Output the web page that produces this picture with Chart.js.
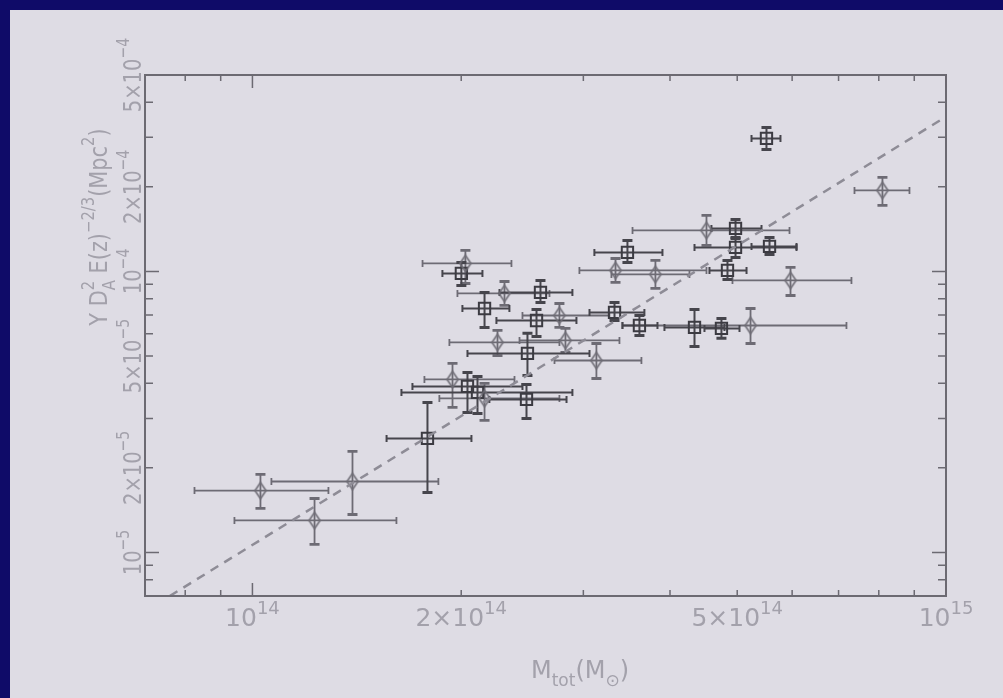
<!DOCTYPE html>
<html>
<head>
<meta charset="utf-8">
<script src="https://cdn.jsdelivr.net/npm/chart.js@4.4.1/dist/chart.umd.min.js"></script>
<style>
  html, body { margin: 0; padding: 0; background: #0f0b68; }
  canvas { display: block; }
</style>
</head>
<body>
<canvas id="c" width="1003" height="698"></canvas>
<script>
// Clusters plotted with diamond symbols: mass, mass range, Y D_A^2 E(z)^-2/3 and its range
const diamondMass   = [1.027e14, 1.229e14, 1.394e14, 1.943e14, 2.161e14, 2.028e14, 2.309e14, 2.771e14, 2.256e14, 2.827e14, 3.133e14, 3.338e14, 3.811e14, 5.968e14, 4.515e14, 5.226e14, 8.098e14];
const diamondMassLo = [8.25e13, 9.42e13, 1.065e14, 1.770e14, 1.860e14, 1.759e14, 1.975e14, 2.451e14, 1.923e14, 2.427e14, 2.726e14, 2.961e14, 3.293e14, 4.922e14, 3.532e14, 3.416e14, 7.380e14];
const diamondMassHi = [1.287e14, 1.613e14, 1.854e14, 2.387e14, 2.771e14, 2.363e14, 2.681e14, 3.271e14, 2.771e14, 3.382e14, 3.638e14, 4.515e14, 4.267e14, 7.306e14, 5.948e14, 7.186e14, 8.858e14];
const diamondY      = [1.66e-5, 1.30e-5, 1.789e-5, 4.127e-5, 3.532e-5, 1.068e-4, 8.35e-5, 6.97e-5, 5.59e-5, 5.68e-5, 4.82e-5, 1.008e-4, 0.976e-4, 0.929e-4, 1.399e-4, 6.42e-5, 1.942e-4];
const diamondYLo    = [1.434e-5, 1.068e-5, 1.365e-5, 3.281e-5, 2.950e-5, 0.906e-4, 7.57e-5, 6.32e-5, 5.02e-5, 5.15e-5, 4.16e-5, 0.914e-4, 0.870e-4, 0.821e-4, 1.238e-4, 5.54e-5, 1.718e-4];
const diamondYHi    = [1.895e-5, 1.556e-5, 2.288e-5, 4.706e-5, 3.995e-5, 1.188e-4, 9.21e-5, 7.69e-5, 6.17e-5, 6.27e-5, 5.54e-5, 1.112e-4, 1.094e-4, 1.033e-4, 1.582e-4, 7.38e-5, 2.161e-4];

// Clusters plotted with square symbols
const squareMass   = [1.788e14, 2.042e14, 2.111e14, 2.484e14, 2.001e14, 2.602e14, 2.161e14, 2.568e14, 2.492e14, 3.327e14, 3.614e14, 3.473e14, 4.841e14, 4.972e14, 4.972e14, 5.566e14, 4.339e14, 4.745e14, 5.510e14];
const squareMassLo = [1.561e14, 1.701e14, 1.640e14, 2.196e14, 1.879e14, 2.271e14, 2.008e14, 2.248e14, 2.042e14, 3.062e14, 3.416e14, 3.112e14, 4.560e14, 4.590e14, 4.339e14, 5.243e14, 3.927e14, 4.485e14, 5.243e14];
const squareMassHi = [2.069e14, 2.451e14, 2.893e14, 2.837e14, 2.146e14, 2.893e14, 2.347e14, 2.932e14, 3.062e14, 3.674e14, 3.837e14, 3.901e14, 5.157e14, 5.420e14, 6.088e14, 6.088e14, 4.793e14, 5.038e14, 5.772e14];
const squareY      = [2.545e-5, 3.897e-5, 3.710e-5, 3.503e-5, 0.984e-4, 8.42e-5, 7.38e-5, 6.69e-5, 5.11e-5, 7.15e-5, 6.42e-5, 1.169e-4, 1.008e-4, 1.422e-4, 1.217e-4, 1.227e-4, 6.32e-5, 6.27e-5, 2.973e-4];
const squareYLo    = [1.635e-5, 3.149e-5, 3.124e-5, 2.999e-5, 0.892e-4, 7.76e-5, 6.32e-5, 5.87e-5, 4.265e-5, 6.69e-5, 5.92e-5, 1.076e-4, 0.936e-4, 1.310e-4, 1.121e-4, 1.149e-4, 5.41e-5, 5.78e-5, 2.718e-4];
const squareYHi    = [3.419e-5, 4.371e-5, 4.229e-5, 3.963e-5, 1.076e-4, 9.29e-5, 8.42e-5, 7.32e-5, 6.02e-5, 7.76e-5, 6.97e-5, 1.289e-4, 1.094e-4, 1.531e-4, 1.321e-4, 1.321e-4, 7.32e-5, 6.80e-5, 3.254e-4];

// Best-fit scaling relation (dashed)
const fitMass = [7.6e13, 9.9e14];
const fitY    = [7.0e-6, 3.5e-4];

// Axis ranges, tick positions and tick labels
const xRange = [7e13, 1e15];
const yRange = [7e-6, 5e-4];
const xMajorTicks = [1e14, 1e15];
const xMinorTicks = [8e13, 9e13, 2e14, 3e14, 4e14, 5e14, 6e14, 7e14, 8e14, 9e14];
const yMajorTicks = [1e-5, 1e-4];
const yMinorTicks = [8e-6, 9e-6, 2e-5, 3e-5, 4e-5, 5e-5, 6e-5, 7e-5, 8e-5, 9e-5, 2e-4, 3e-4, 4e-4];
const xTickValues = [1e14, 2e14, 5e14, 1e15];
const xTickLabels = [['10', '14'], ['2×10', '14'], ['5×10', '14'], ['10', '15']];
const yTickValues = [1e-5, 2e-5, 5e-5, 1e-4, 2e-4, 5e-4];
const yTickLabels = [['10', '−5'], ['2×10', '−5'], ['5×10', '−5'], ['10', '−4'], ['2×10', '−4'], ['5×10', '−4']];

const FONT = '"DejaVu Sans", sans-serif';
const TEXT_COLOR = '#a3a1ab';
const AXIS_COLOR = '#6c6a72';

function toPoints(xs, ys) { return xs.map((v, i) => ({ x: v, y: ys[i] })); }

// Tall hollow diamond symbol
function makeDiamond(color) {
  const c = document.createElement('canvas');
  c.width = 16; c.height = 20;
  const g = c.getContext('2d');
  g.strokeStyle = color; g.lineWidth = 1.6;
  g.beginPath();
  g.moveTo(8, 2); g.lineTo(13.5, 10); g.lineTo(8, 18); g.lineTo(2.5, 10); g.closePath();
  g.stroke();
  return c;
}

// Draws a run of text pieces: each piece has text, size, vertical shift and optional no-advance
function drawRich(ctx, parts, x, y, align) {
  let total = 0;
  parts.forEach(p => {
    ctx.font = p.size + 'px ' + FONT;
    p.w = ctx.measureText(p.t).width;
    if (!p.hold) total += p.w;
  });
  let cx = align === 'center' ? x - total / 2 : x;
  ctx.textAlign = 'left';
  ctx.textBaseline = 'alphabetic';
  parts.forEach(p => {
    ctx.font = p.size + 'px ' + FONT;
    ctx.fillText(p.t, cx, y + (p.dy || 0));
    if (!p.hold) cx += p.w;
  });
}

const errorBars = {
  id: 'errorBars',
  beforeDatasetsDraw(chart) {
    const { ctx, scales: { x, y } } = chart;
    ctx.save();
    chart.data.datasets.forEach(ds => {
      if (!ds.errors) return;
      const e = ds.errors;
      ctx.strokeStyle = ds.barColor;
      ds.data.forEach((pt, k) => {
        const px = x.getPixelForValue(pt.x), py = y.getPixelForValue(pt.y);
        const xl = x.getPixelForValue(e.xLo[k]), xh = x.getPixelForValue(e.xHi[k]);
        const yl = y.getPixelForValue(e.yLo[k]), yh = y.getPixelForValue(e.yHi[k]);
        ctx.lineWidth = ds.barWidth;
        ctx.beginPath();
        ctx.moveTo(xl, py); ctx.lineTo(xh, py);
        ctx.moveTo(xl, py - 3.5); ctx.lineTo(xl, py + 3.5);
        ctx.moveTo(xh, py - 3.5); ctx.lineTo(xh, py + 3.5);
        ctx.moveTo(px, yl); ctx.lineTo(px, yh);
        ctx.stroke();
        ctx.lineWidth = ds.barWidth + 1;
        ctx.beginPath();
        ctx.moveTo(px - 5, yl); ctx.lineTo(px + 5, yl);
        ctx.moveTo(px - 5, yh); ctx.lineTo(px + 5, yh);
        ctx.stroke();
      });
    });
    ctx.restore();
  }
};

const frame = {
  id: 'frame',
  beforeDraw(chart) {
    const ctx = chart.ctx;
    ctx.save();
    ctx.fillStyle = '#0f0b68';
    ctx.fillRect(0, 0, chart.width, chart.height);
    ctx.fillStyle = '#dedce4';
    ctx.fillRect(10, 10, chart.width - 10, chart.height - 10);
    ctx.restore();
  },
  afterDraw(chart) {
    const { ctx, chartArea: a, scales: { x, y } } = chart;
    ctx.save();
    ctx.strokeStyle = AXIS_COLOR;
    ctx.lineWidth = 2;
    ctx.strokeRect(a.left, a.top, a.right - a.left, a.bottom - a.top);
    ctx.lineWidth = 1.5;
    const tick = (vals, len) => {
      vals.forEach(v => {
        const px = x.getPixelForValue(v);
        if (px < a.left - 0.5 || px > a.right + 0.5) return;
        ctx.beginPath();
        ctx.moveTo(px, a.bottom); ctx.lineTo(px, a.bottom - len);
        ctx.moveTo(px, a.top); ctx.lineTo(px, a.top + len);
        ctx.stroke();
      });
    };
    const ytick = (vals, len) => {
      vals.forEach(v => {
        const py = y.getPixelForValue(v);
        if (py < a.top - 0.5 || py > a.bottom + 0.5) return;
        ctx.beginPath();
        ctx.moveTo(a.left, py); ctx.lineTo(a.left + len, py);
        ctx.moveTo(a.right, py); ctx.lineTo(a.right - len, py);
        ctx.stroke();
      });
    };
    tick(xMajorTicks, 13); tick(xMinorTicks, 6);
    ytick(yMajorTicks, 14); ytick(yMinorTicks, 8);

    ctx.fillStyle = TEXT_COLOR;
    // x tick labels
    xTickValues.forEach((v, i) => {
      const px = x.getPixelForValue(v);
      drawRich(ctx, [
        { t: xTickLabels[i][0], size: 25 },
        { t: xTickLabels[i][1], size: 18, dy: -12 }
      ], px, a.bottom + 30, 'center');
    });
    // y tick labels, rotated and set a little narrower
    yTickValues.forEach((v, i) => {
      const py = y.getPixelForValue(v);
      ctx.save();
      ctx.translate(a.left - 4, py);
      ctx.rotate(-Math.PI / 2);
      ctx.scale(0.78, 1);
      drawRich(ctx, [
        { t: yTickLabels[i][0], size: 25 },
        { t: yTickLabels[i][1], size: 18, dy: -12 }
      ], 0, 0, 'center');
      ctx.restore();
    });
    // x title
    drawRich(ctx, [
      { t: 'M', size: 24 },
      { t: 'tot', size: 17, dy: 8 },
      { t: '(M', size: 24 },
      { t: '⊙', size: 17, dy: 8 },
      { t: ')', size: 24 }
    ], 580, a.bottom + 82, 'center');
    // y title, rotated
    ctx.save();
    ctx.translate(a.left - 38, 227);
    ctx.rotate(-Math.PI / 2);
    ctx.scale(0.87, 1);
    drawRich(ctx, [
      { t: 'Y D', size: 24 },
      { t: '2', size: 17, dy: -13, hold: true },
      { t: 'A', size: 17, dy: 8 },
      { t: ' E(z)', size: 24 },
      { t: '−2/3', size: 17, dy: -13 },
      { t: '(Mpc', size: 24 },
      { t: '2', size: 17, dy: -13 },
      { t: ')', size: 24 }
    ], 0, 0, 'center');
    ctx.restore();
    ctx.restore();
  }
};

new Chart(document.getElementById('c'), {
  data: {
    datasets: [
      {
        type: 'line',
        data: toPoints(fitMass, fitY),
        borderColor: '#8e8c96',
        borderWidth: 2.5,
        borderDash: [9, 7],
        pointRadius: 0,
        fill: false
      },
      {
        type: 'scatter',
        data: toPoints(diamondMass, diamondY),
        errors: { xLo: diamondMassLo, xHi: diamondMassHi, yLo: diamondYLo, yHi: diamondYHi },
        barColor: '#6d6b74',
        barWidth: 1.8,
        pointStyle: makeDiamond('#6f6d76'),
        pointRadius: 7
      },
      {
        type: 'scatter',
        data: toPoints(squareMass, squareY),
        errors: { xLo: squareMassLo, xHi: squareMassHi, yLo: squareYLo, yHi: squareYHi },
        barColor: '#46454c',
        barWidth: 2,
        pointStyle: 'rect',
        pointRadius: 8,
        borderColor: '#3c3b42',
        borderWidth: 2,
        backgroundColor: 'rgba(0,0,0,0)'
      }
    ]
  },
  options: {
    responsive: false,
    animation: false,
    events: [],
    layout: { padding: { left: 145, right: 57, top: 75, bottom: 102 } },
    plugins: { legend: { display: false }, tooltip: { enabled: false } },
    scales: {
      x: { type: 'logarithmic', min: xRange[0], max: xRange[1], display: false },
      y: { type: 'logarithmic', min: yRange[0], max: yRange[1], display: false }
    }
  },
  plugins: [frame, errorBars]
});
</script>
</body>
</html>
